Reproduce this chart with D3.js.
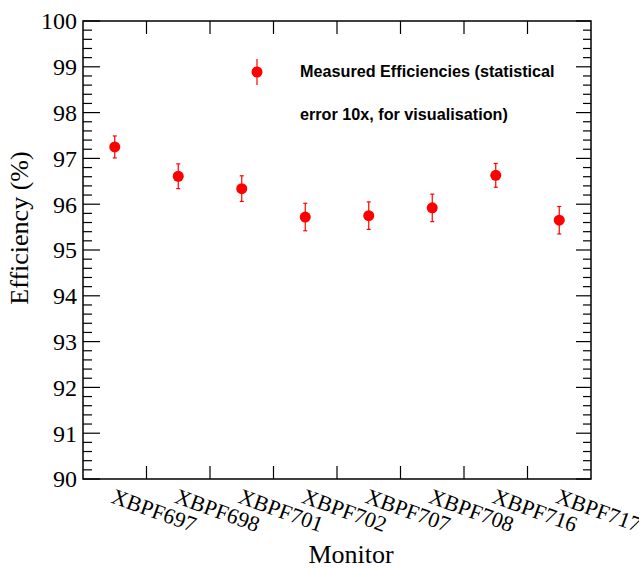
<!DOCTYPE html>
<html><head><meta charset="utf-8">
<script src="https://cdn.jsdelivr.net/npm/d3@7"></script>
<style>body{margin:0;background:#fff}svg{display:block}</style>
</head><body>
<svg id="c" width="639" height="568"></svg>
<script>
const monitors = ["XBPF697","XBPF698","XBPF701","XBPF702","XBPF707","XBPF708","XBPF716","XBPF717"];
const efficiency = [97.25, 96.61, 96.34, 95.72, 95.75, 95.92, 96.63, 95.65];
const errors10x = [0.24, 0.27, 0.28, 0.30, 0.30, 0.30, 0.26, 0.30];
const yTicks = [90,91,92,93,94,95,96,97,98,99,100];
const legendLines = ["Measured Efficiencies (statistical", "error 10x, for visualisation)"];

const svg = d3.select("#c");
const L = 83, R = 591, T = 21, B = 479;
const x = d3.scaleBand().domain(monitors).range([L, R]).padding(0);
const y = d3.scaleLinear().domain([90, 100]).range([B, T]);
const serif = "'Liberation Serif','Times New Roman',serif";
const red = "#ff0000";

// frame
svg.append("rect").attr("x", L).attr("y", T).attr("width", R - L).attr("height", B - T)
  .attr("fill", "none").attr("stroke", "#000").attr("stroke-width", 1.5);

// y ticks (major + minor) left and right
const minor = d3.range(0, 50).map(i => 90 + i * 0.2).filter(v => Math.abs(v - Math.round(v)) > 1e-6);
const tg = svg.append("g").attr("stroke", "#000").attr("stroke-width", 1.2);
yTicks.forEach(v => {
  tg.append("line").attr("x1", L).attr("x2", L + 17).attr("y1", y(v)).attr("y2", y(v));
  tg.append("line").attr("x1", R).attr("x2", R - 15).attr("y1", y(v)).attr("y2", y(v));
});
minor.forEach(v => {
  tg.append("line").attr("x1", L).attr("x2", L + 9).attr("y1", y(v)).attr("y2", y(v));
  tg.append("line").attr("x1", R).attr("x2", R - 8).attr("y1", y(v)).attr("y2", y(v));
});
// x ticks at category boundaries
monitors.slice(1).forEach(m => {
  const xv = x(m);
  tg.append("line").attr("x1", xv).attr("x2", xv).attr("y1", T).attr("y2", T + 13);
  tg.append("line").attr("x1", xv).attr("x2", xv).attr("y1", B).attr("y2", B - 13);
});

// y tick labels
svg.append("g").selectAll("text").data(yTicks).join("text")
  .attr("x", L - 6).attr("y", d => y(d)).attr("dy", "0.35em")
  .attr("text-anchor", "end").attr("font-family", serif).attr("font-size", 24)
  .text(d => d);

// x tick labels rotated
svg.append("g").selectAll("text").data(monitors).join("text")
  .attr("transform", d => `translate(${x(d) + x.bandwidth() / 2 - 2},${B + 16}) rotate(20)`)
  .attr("font-family", serif).attr("font-size", 22).attr("dy", "0.35em")
  .text(d => d);

// axis titles
svg.append("text").attr("x", 351).attr("y", 563).attr("text-anchor", "middle")
  .attr("font-family", serif).attr("font-size", 26).text("Monitor");
svg.append("text").attr("transform", `translate(28,228) rotate(-90)`).attr("text-anchor", "middle")
  .attr("font-family", serif).attr("font-size", 26).text("Efficiency (%)");

// data: error bars + points
const dg = svg.append("g");
monitors.forEach((m, i) => {
  const cx = x(m) + x.bandwidth() / 2;
  const y1 = y(efficiency[i] + errors10x[i]), y0 = y(efficiency[i] - errors10x[i]);
  dg.append("line").attr("x1", cx).attr("x2", cx).attr("y1", y1).attr("y2", y0)
    .attr("stroke", red).attr("stroke-width", 1.2);
  [y1, y0].forEach(yy => dg.append("line").attr("x1", cx - 2).attr("x2", cx + 2)
    .attr("y1", yy).attr("y2", yy).attr("stroke", red).attr("stroke-width", 1.2));
  dg.append("circle").attr("cx", cx).attr("cy", y(efficiency[i])).attr("r", 5.5).attr("fill", red);
});

// legend
const lg = svg.append("g");
lg.append("line").attr("x1", 257).attr("x2", 257).attr("y1", 59).attr("y2", 85)
  .attr("stroke", red).attr("stroke-width", 1.2);
lg.append("circle").attr("cx", 257).attr("cy", 72).attr("r", 5.5).attr("fill", red);
lg.selectAll("text").data(legendLines).join("text")
  .attr("x", 300).attr("y", (d, i) => 77 + i * 43)
  .attr("font-family", "'Liberation Sans',Arial,Helvetica,sans-serif").attr("font-weight", "bold")
  .attr("font-size", 16.2).text(d => d);
</script>
</body></html>
